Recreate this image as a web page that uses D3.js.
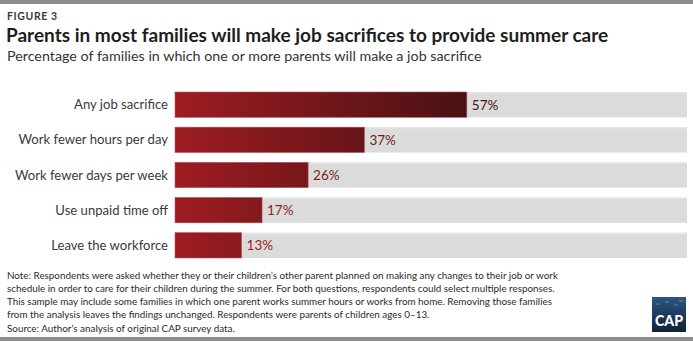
<!DOCTYPE html>
<html lang="en">
<head>
    <meta charset="UTF-8">
    <title>Figure 3</title>
    <script src="https://d3js.org/d3.v7.min.js"></script>
    <style>
        body { margin: 0; background: #ffffff; }
        svg { display: block; font-family: Lato, "Open Sans", sans-serif; }
    </style>
</head>
<body>
    <svg id="chart" width="693" height="341"></svg>
    <script>
        const categories = ['Any job sacrifice', 'Work fewer hours per day', 'Work fewer days per week', 'Use unpaid time off', 'Leave the workforce'];
        const values = [57, 37, 26, 17, 13];
        const valueLabels = ['57%', '37%', '26%', '17%', '13%'];
        const noteLines = [
            "Note: Respondents were asked whether they or their children\u2019s other parent planned on making any changes to their job or work",
            "schedule in order to care for their children during the summer. For both questions, respondents could select multiple responses.",
            "This sample may include some families in which one parent works summer hours or works from home. Removing those families",
            "from the analysis leaves the findings unchanged. Respondents were parents of children ages 0\u201313."
        ];
        const sourceText = "Source: Author\u2019s analysis of original CAP survey data.";

        const svg = d3.select('#chart');
        const W = 693, H = 341;

        // frame bars
        svg.append('rect').attr('x', 0).attr('y', 0).attr('width', W).attr('height', 4).attr('fill', '#8d8d8d');
        svg.append('rect').attr('x', 0).attr('y', 337).attr('width', W).attr('height', 4).attr('fill', '#8d8d8d');

        // header
        svg.append('text').attr('x', 7).attr('y', 20)
            .attr('font-size', 10.5).attr('font-weight', 700).attr('letter-spacing', 0.6)
            .attr('fill', '#3a3a3a').text('FIGURE 3');
        svg.append('text').attr('x', 6).attr('y', 42)
            .attr('font-size', 19).attr('font-weight', 700).attr('fill', '#1e1e1e')
            .text('Parents in most families will make job sacrifices to provide summer care');
        svg.append('text').attr('x', 7).attr('y', 61)
            .attr('font-size', 14.3).attr('fill', '#333333')
            .text('Percentage of families in which one or more parents will make a job sacrifice');

        // scales
        const x = d3.scaleLinear().domain([0, 100]).range([175, 687]);
        const y = d3.scaleBand().domain(categories).range([92, 258]).paddingInner(0.28).paddingOuter(0);

        const left = '#9e1c22', right = '#4a1113';
        const grad = svg.append('defs').append('linearGradient')
            .attr('id', 'barGrad').attr('gradientUnits', 'userSpaceOnUse')
            .attr('x1', x(0)).attr('x2', x(d3.max(values))).attr('y1', 0).attr('y2', 0);
        grad.append('stop').attr('offset', 0).attr('stop-color', left);
        grad.append('stop').attr('offset', 1).attr('stop-color', right);
        const labelColor = d3.scaleLinear().domain([0, d3.max(values)]).range(['#b0262c', '#4a1515']);

        const rows = svg.append('g').selectAll('g').data(categories).join('g')
            .attr('transform', d => `translate(0,${y(d)})`);

        rows.append('rect').attr('x', x(0)).attr('y', 0)
            .attr('width', x(100) - x(0)).attr('height', y.bandwidth())
            .attr('fill', '#dbdbdb');
        rows.append('rect').attr('x', x(0)).attr('y', 0.3)
            .attr('width', x(100) - x(0)).attr('height', 1)
            .attr('fill', '#e8e8e8');

        rows.append('rect').attr('x', x(0)).attr('y', 0)
            .attr('width', (d, i) => x(values[i]) - x(0)).attr('height', y.bandwidth())
            .attr('fill', 'url(#barGrad)')
            .attr('stroke', '#b0585c').attr('stroke-width', 0.6);

        rows.append('text').attr('x', 168).attr('y', y.bandwidth() / 2)
            .attr('dy', '0.35em').attr('text-anchor', 'end')
            .attr('font-size', 13.1).attr('fill', '#3a3a3a')
            .text(d => d);

        rows.append('text').attr('x', (d, i) => x(values[i]) + 5).attr('y', y.bandwidth() / 2)
            .attr('dy', '0.38em')
            .attr('font-size', 13.5).attr('fill', (d, i) => labelColor(values[i]))
            .text((d, i) => valueLabels[i]);

        // notes
        svg.append('g').selectAll('text').data(noteLines).join('text')
            .attr('x', 7).attr('y', (d, i) => 279 + i * 13)
            .attr('font-size', 9.85).attr('fill', '#2a2a2a')
            .text(d => d);
        svg.append('text').attr('x', 7).attr('y', 331.5)
            .attr('font-size', 9.85).attr('fill', '#2a2a2a').text(sourceText);

        // logo
        const logo = svg.append('g').attr('transform', 'translate(652,297)');
        const lg = svg.select('defs').append('linearGradient').attr('id', 'logoGrad')
            .attr('x1', 0).attr('x2', 0).attr('y1', 0).attr('y2', 1);
        lg.append('stop').attr('offset', 0).attr('stop-color', '#2c5680');
        lg.append('stop').attr('offset', 1).attr('stop-color', '#0e2238');
        logo.append('rect').attr('width', 34).attr('height', 35).attr('fill', 'url(#logoGrad)');
        logo.append('g').selectAll('line').data([[4, 7], [13, 5], [22, 8], [27, 4]]).join('line')
            .attr('x1', d => d[0]).attr('x2', d => d[0] + 4).attr('y1', d => d[1]).attr('y2', d => d[1])
            .attr('stroke', '#6f95ba').attr('stroke-width', 0.8);
        logo.append('text').attr('x', 17).attr('y', 29).attr('text-anchor', 'middle')
            .attr('font-size', 15).attr('font-weight', 900).attr('fill', '#ffffff')
            .attr('textLength', 28).attr('lengthAdjust', 'spacingAndGlyphs')
            .text('CAP');
    </script>
</body>
</html>
